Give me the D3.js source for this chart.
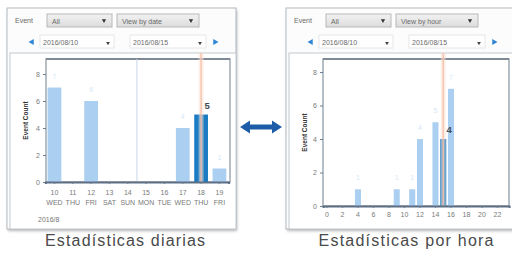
<!DOCTYPE html>
<meta charset="utf-8">
<style>
body { margin: 0; background: #fff; }
svg { display: block; font-family: "Liberation Sans", Arial, sans-serif; }
.ctl text { font-size: 7px; fill: #6a6a6a; }
.axis text { font-size: 7px; fill: #7a7a7a; }
.axis line { stroke: #6d7d8f; }
</style>
<svg width="512" height="262"></svg>
<script src="https://d3js.org/d3.v7.min.js"></script>
<script>

var days = ["10", "11", "12", "13", "14", "15", "16", "17", "18", "19"];
var weekdays = ["WED", "THU", "FRI", "SAT", "SUN", "MON", "TUE", "WED", "THU", "FRI"];
var dayCounts = [7, 0, 6, 0, 0, 0, 0, 4, 5, 1];
var hours = [0, 1, 2, 3, 4, 5, 6, 7, 8, 9, 10, 11, 12, 13, 14, 15, 16, 17, 18, 19, 20, 21, 22, 23];
var hourCounts = [0, 0, 0, 0, 1, 0, 0, 0, 0, 1, 0, 1, 4, 0, 5, 4, 7, 0, 0, 0, 0, 0, 0, 0];
var hourTicks = [0, 2, 4, 6, 8, 10, 12, 14, 16, 18, 20, 22];
var yTicks = [0, 2, 4, 6, 8];
var selDay = "18", selHour = 15;
var captions = ["Estadísticas diarias", "Estadísticas por hora"];

var svg = d3.select("svg");

var defs = svg.append("defs");
defs.append("filter").attr("id", "shadow").attr("x", "-10%").attr("y", "-10%").attr("width", "120%").attr("height", "120%")
  .append("feGaussianBlur").attr("stdDeviation", 1.6);
var grad = defs.append("linearGradient").attr("id", "btn").attr("x1", 0).attr("y1", 0).attr("x2", 0).attr("y2", 1);
grad.append("stop").attr("offset", "0%").attr("stop-color", "#f2f2f2");
grad.append("stop").attr("offset", "100%").attr("stop-color", "#dcdcdc");

function dropdown(g, x, y, w, label) {
  g.append("rect").attr("x", x).attr("y", y).attr("width", w).attr("height", 13)
    .attr("fill", "url(#btn)").attr("stroke", "#b8b8b8");
  g.append("text").attr("x", x + 5).attr("y", y + 9.5).text(label);
  g.append("path").attr("d", d3.symbol(d3.symbolTriangle, 8)())
    .attr("transform", "translate(" + (x + w - 8) + "," + (y + 6.5) + ") rotate(180)")
    .attr("fill", "#333");
}

function dateBox(g, x, w, label) {
  g.append("rect").attr("x", x).attr("y", 35).attr("width", w).attr("height", 13)
    .attr("fill", "#fff").attr("stroke", "#e6e6e6");
  g.append("text").attr("x", x + 3).attr("y", 44.5).text(label);
  g.append("path").attr("d", d3.symbol(d3.symbolTriangle, 6)())
    .attr("transform", "translate(" + (x + w - 6) + ",43) rotate(180)")
    .attr("fill", "#444");
}

function drawFrame(ox, view) {
  var g = svg.append("g");
  g.append("rect").attr("x", ox + 1).attr("y", 10).attr("width", 229).attr("height", 221)
    .attr("fill", "#b5b5b5").attr("filter", "url(#shadow)");
  g.append("rect").attr("x", ox).attr("y", 8).attr("width", 229).attr("height", 221)
    .attr("fill", "#fcfcfc").attr("stroke", "#b3b9bf");
  g.append("rect").attr("x", ox + 3).attr("y", 53).attr("width", 226).attr("height", 176)
    .attr("fill", "#fff").attr("stroke", "#c3c9cf");

  var c = g.append("g").attr("class", "ctl");
  c.append("text").attr("x", ox + 8).attr("y", 23).text("Event");
  dropdown(c, ox + 40, 14, 65, "All");
  dropdown(c, ox + 110, 14, 82, view);
  c.append("path").attr("d", d3.symbol(d3.symbolTriangle, 16)())
    .attr("transform", "translate(" + (ox + 25) + ",42) rotate(-90)").attr("fill", "#2f86d6");
  dateBox(c, ox + 33, 74, "2016/08/10");
  dateBox(c, ox + 123, 76, "2016/08/15");
  c.append("path").attr("d", d3.symbol(d3.symbolTriangle, 16)())
    .attr("transform", "translate(" + (ox + 208) + ",42) rotate(90)").attr("fill", "#2f86d6");
}

function drawPlot(p) {
  var g = svg.append("g");
  var x = p.x, y = p.y;
  var x0 = p.left, x1 = p.right, yT = p.top, yB = y(0);

  g.append("rect").attr("x", x0).attr("y", yT).attr("width", x1 - x0).attr("height", yB - yT)
    .attr("fill", "#fff").attr("stroke", "#98a3ae").attr("stroke-width", 1.4);
  g.append("line").attr("x1", x0).attr("x2", x1).attr("y1", yT).attr("y2", yT)
    .attr("stroke", "#7f8a96").attr("stroke-width", 2);

  if (p.separator) {
    var sx = x(p.separator) - x.step() * x.paddingInner() / 2;
    g.append("line").attr("x1", sx).attr("x2", sx).attr("y1", yT).attr("y2", yB)
      .attr("stroke", "#c6d6e6").attr("stroke-width", 1);
  }

  var data = p.cats.map(function(k, i) { return { k: k, v: p.vals[i] }; });

  g.selectAll(".bar").data(data.filter(function(d) { return d.v > 0; })).enter().append("rect")
    .attr("x", function(d) { return x(d.k); })
    .attr("y", function(d) { return y(d.v); })
    .attr("width", x.bandwidth())
    .attr("height", function(d) { return yB - y(d.v); })
    .attr("fill", function(d) { return d.k === p.sel ? "#1b7cc4" : "#abcff0"; });

  g.selectAll(".faint").data(data.filter(function(d) { return d.v > 0 && d.k !== p.sel; })).enter().append("text")
    .attr("x", function(d) { return x(d.k) + x.bandwidth() / 2; })
    .attr("y", function(d) { return y(d.v) - 9; })
    .attr("text-anchor", "middle").style("font-size", "7px").attr("fill", "#d6e7f6")
    .text(function(d) { return d.v; });

  var mx = x(p.sel) + x.bandwidth() / 2;
  g.append("line").attr("x1", mx).attr("x2", mx).attr("y1", 53).attr("y2", yB)
    .attr("stroke", "#fbe0d3").attr("stroke-width", 5).attr("opacity", 0.5);
  g.append("line").attr("x1", mx).attr("x2", mx).attr("y1", 53).attr("y2", yB)
    .attr("stroke", "#f6bea6").attr("stroke-width", 1.6).attr("opacity", 0.8);

  var sv = p.vals[p.cats.indexOf(p.sel)];
  g.append("text").attr("x", mx + 6).attr("y", y(sv) - 6)
    .attr("text-anchor", "middle").style("font-size", "9.5px").style("font-weight", "bold")
    .attr("fill", "#454a50").text(sv);

  var ya = g.append("g").attr("class", "axis").attr("transform", "translate(" + x0 + ",0)")
    .call(d3.axisLeft(y).tickValues(yTicks).tickSize(3).tickPadding(3));
  ya.select(".domain").remove();

  var xa = g.append("g").attr("class", "axis").attr("transform", "translate(0," + yB + ")")
    .call(p.xAxis);
  xa.select(".domain").attr("stroke", "#5d6f84").attr("stroke-width", 2);

  g.append("text").attr("transform", "translate(" + p.titleX + "," + ((yT + yB) / 2) + ") rotate(-90)")
    .attr("text-anchor", "middle").style("font-size", "6.5px").style("font-weight", "bold")
    .attr("fill", "#333").text("Event Count");
  return xa;
}

drawFrame(7, "View by date");
drawFrame(286, "View by hour");

var xDay = d3.scaleBand().domain(days).range([45.3, 228.6]).paddingInner(0.25).paddingOuter(0.125);
var yDay = d3.scaleLinear().domain([0, 9.04]).range([182, 60]);
var xaDay = drawPlot({
  x: xDay, y: yDay, cats: days, vals: dayCounts, sel: selDay,
  left: 46, right: 230, top: 59, titleX: 28, separator: "15",
  xAxis: d3.axisBottom(xDay).tickSize(2).tickPadding(6)
});
xaDay.selectAll(".tick text").each(function(d) {
  var t = d3.select(this).text(null);
  t.append("tspan").attr("x", 0).text(d);
  t.append("tspan").attr("x", 0).attr("dy", "10").text(weekdays[days.indexOf(d)]);
});
svg.append("text").attr("x", 38).attr("y", 222).style("font-size", "7px").attr("fill", "#777").text("2016/8");

var xHour = d3.scaleBand().domain(hours).range([323.1, 509.1]).paddingInner(0.22).paddingOuter(0.11);
var yHour = d3.scaleLinear().domain([0, 8.78]).range([206, 59]);
drawPlot({
  x: xHour, y: yHour, cats: hours, vals: hourCounts, sel: selHour,
  left: 323, right: 509, top: 59, titleX: 307,
  xAxis: d3.axisBottom(xHour).tickValues(hourTicks).tickSize(2).tickPadding(4)
});

// double arrow between the panels
var ay = 127;
svg.append("path")
  .attr("d", "M240," + ay + " l10,-6.5 v4 h22 v-4 l10,6.5 l-10,6.5 v-4 h-22 v4 z")
  .attr("fill", "#1d5ca8");

svg.selectAll(".caption").data(captions).enter().append("text")
  .attr("x", function(d, i) { return i === 0 ? 125 : 406; })
  .attr("y", 246)
  .attr("text-anchor", "middle")
  .attr("textLength", function(d, i) { return i === 0 ? 160 : 175; })
  .attr("lengthAdjust", "spacing")
  .style("font-size", "16px").attr("fill", "#4a4a4a")
  .text(function(d) { return d; });

</script>
